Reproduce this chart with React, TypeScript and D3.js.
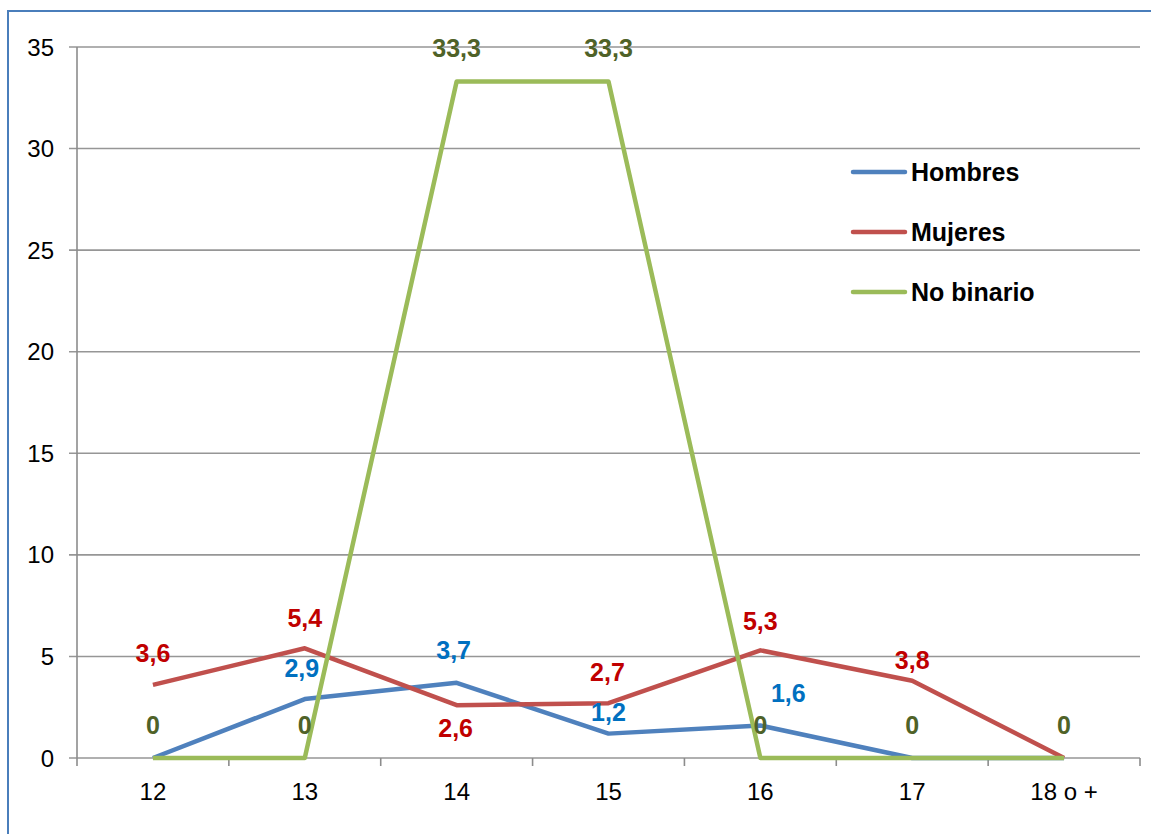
import React from "react";
import * as d3 from "d3";

// Age groups on the horizontal axis
const categories = ["12", "13", "14", "15", "16", "17", "18 o +"];

// Percentages per age group
const hombres = [0, 2.9, 3.7, 1.2, 1.6, 0, 0];
const mujeres = [3.6, 5.4, 2.6, 2.7, 5.3, 3.8, 0];
const noBinario = [0, 0, 33.3, 33.3, 0, 0, 0];

const yTicks = [0, 5, 10, 15, 20, 25, 30, 35];

// Label placement per point: [dx, dy] from the point to the label centre, null = no label
const hombresLabelPos: ([number, number] | null)[] = [null, [-3, -31], [-3, -33], [0, -21], [28, -32], null, null];
const mujeresLabelPos: ([number, number] | null)[] = [[0, -32], [0, -30], [-1, 23], [-1, -31], [0, -29], [0, -21], null];
const noBinarioLabelPos: ([number, number] | null)[] = [[0, -33], [0, -33], [0, -33], [0, -33], [0, -33], [0, -33], [0, -33]];

const W = 1151;
const H = 834;
const plot = { left: 77, right: 1140, top: 47, bottom: 758 };
const FONT = "'Liberation Sans', Arial, sans-serif";

const fmt = (v: number) => String(v).replace(".", ",");

export default function App() {
  const x = d3
    .scaleBand<string>()
    .domain(categories)
    .range([plot.left, plot.right]);
  const y = d3.scaleLinear().domain([0, 35]).range([plot.bottom, plot.top]);
  const cx = (c: string) => (x(c) as number) + x.bandwidth() / 2;

  const line = d3
    .line<number>()
    .x((_, i) => cx(categories[i]))
    .y((d) => y(d));

  const series = [
    { name: "Hombres", values: hombres, color: "#4F81BD", labelColor: "#0070C0", pos: hombresLabelPos },
    { name: "Mujeres", values: mujeres, color: "#C0504D", labelColor: "#C00000", pos: mujeresLabelPos },
    { name: "No binario", values: noBinario, color: "#9BBB59", labelColor: "#4F6228", pos: noBinarioLabelPos },
  ];

  const boundaries = categories.map((c) => x(c) as number).concat([plot.right]);

  return (
    <svg
      width={W}
      height={H}
      style={{ position: "absolute", left: 0, top: 0, background: "#fff" }}
      fontFamily={FONT}
    >
      <rect x={0} y={0} width={W} height={H} fill="#fff" />
      {/* chart frame */}
      <rect x={8} y={11} width={W + 20} height={H + 20} fill="none" stroke="#4A7EBB" strokeWidth={2} />

      {/* horizontal gridlines with y ticks */}
      {yTicks.map((t) => (
        <g key={t}>
          <line x1={69} x2={plot.right} y1={y(t)} y2={y(t)} stroke="#969696" strokeWidth={1.6} />
          <text x={54} y={y(t) + 8.6} textAnchor="end" fontSize={24} fill="#000">
            {t}
          </text>
        </g>
      ))}

      {/* y axis */}
      <line x1={plot.left} x2={plot.left} y1={plot.top} y2={plot.bottom} stroke="#8C8C8C" strokeWidth={1.6} />

      {/* x axis ticks at band boundaries */}
      {boundaries.map((b, i) => (
        <line key={i} x1={b} x2={b} y1={plot.bottom} y2={plot.bottom + 8} stroke="#8C8C8C" strokeWidth={1.6} />
      ))}
      {categories.map((c) => (
        <text key={c} x={cx(c)} y={800} textAnchor="middle" fontSize={24} fill="#000">
          {c}
        </text>
      ))}

      {/* series lines */}
      {series.map((s) => (
        <path
          key={s.name}
          d={line(s.values) as string}
          fill="none"
          stroke={s.color}
          strokeWidth={4.5}
          strokeLinejoin="round"
        />
      ))}

      {/* data labels */}
      {series.map((s) =>
        s.values.map((v, i) => {
          const p = s.pos[i];
          if (!p) return null;
          return (
            <text
              key={s.name + i}
              x={cx(categories[i]) + p[0]}
              y={y(v) + p[1] + 8.8}
              textAnchor="middle"
              fontSize={25}
              fontWeight="bold"
              fill={s.labelColor}
            >
              {fmt(v)}
            </text>
          );
        })
      )}

      {/* legend */}
      {series.map((s, i) => {
        const ly = 172 + i * 60;
        return (
          <g key={s.name}>
            <line x1={853} x2={905} y1={ly} y2={ly} stroke={s.color} strokeWidth={4.5} strokeLinecap="round" />
            <text x={911} y={ly + 8.8} fontSize={25} fontWeight="bold" fill="#000">
              {s.name}
            </text>
          </g>
        );
      })}
    </svg>
  );
}
